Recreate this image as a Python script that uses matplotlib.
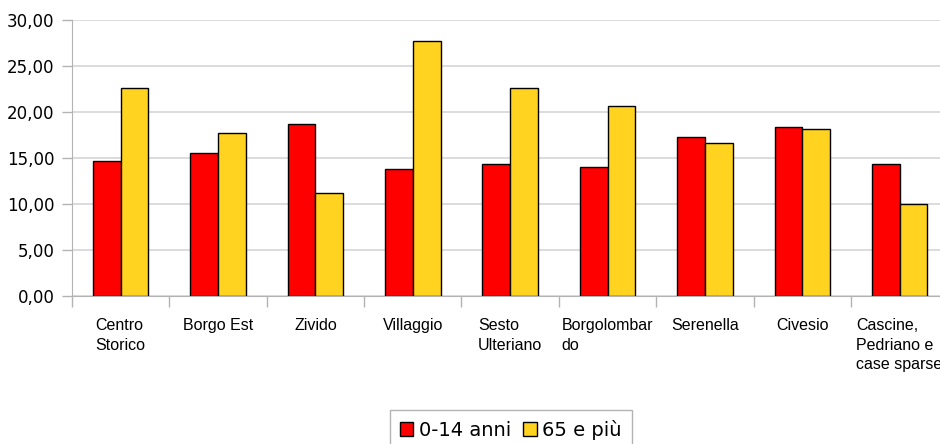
#Bar chart of population share by age class per quartiere (0-14 anni vs 65 e piu)

import numpy as np
import matplotlib
matplotlib.use("Agg")
import matplotlib.pyplot as plt

#
# Data
#

quartieri = ["Centro\nStorico", "Borgo Est", "Zivido", "Villaggio", "Sesto\nUlteriano",
             "Borgolombar\ndo", "Serenella", "Civesio", "Cascine,\nPedriano e\ncase sparse"]
giovani = [14.63, 15.53, 18.63, 13.73, 14.30, 13.94, 17.21, 18.30, 14.27]   # 0-14 anni
anziani = [22.55, 17.71, 11.11, 27.67, 22.55, 20.59, 16.59, 18.08, 9.91]    # 65 e piu
serieNomi = ["0-14 anni", "65 e più"]
yTicks = [0, 5, 10, 15, 20, 25, 30]

#
# Plot
#

fig = plt.figure(figsize=(9.4, 4.44), dpi=100)
ax = fig.add_axes([72/940., 1-295.5/444., (948.3-72)/940., (295.5-20)/444.])

x = np.arange(len(quartieri))
w = 0.285
ax.bar(x - w/2, giovani, w, color="#ff0000", edgecolor="black", linewidth=1.0, label=serieNomi[0], zorder=3)
ax.bar(x + w/2, anziani, w, color="#ffd320", edgecolor="black", linewidth=1.0, label=serieNomi[1], zorder=3)

ax.set_xlim(-0.5, len(quartieri) - 0.5)
ax.set_ylim(0, 30)

#y axis
ax.set_yticks(yTicks)
ax.set_yticklabels(["%d,00" % v for v in yTicks], fontsize=12, family="DejaVu Sans")
ax.tick_params(axis="y", length=7.2, width=1, color="#b3b3b3", pad=5.5)
ax.yaxis.grid(True, color="#d6d6d6", linewidth=1.2, zorder=0)

#x axis: labels at centres, tick marks between groups
ax.set_xticks(x)
ax.set_xticklabels(quartieri, fontsize=11.5, family=["Liberation Sans", "DejaVu Sans"],
                   linespacing=1.4, va="top", ha="center", multialignment="left")
ax.tick_params(axis="x", which="major", length=0, pad=16)
ax.set_xticks(np.arange(-0.5, len(quartieri), 1.0), minor=True)
ax.tick_params(axis="x", which="minor", length=8, width=1, color="#b3b3b3")

for s in ["top", "right"]:
    ax.spines[s].set_visible(False)
ax.spines["left"].set_color("#b3b3b3")
ax.spines["bottom"].set_color("#b3b3b3")
ax.spines["left"].set_zorder(4)
ax.spines["bottom"].set_zorder(4)

leg = fig.legend(loc="upper center", bbox_to_anchor=(510.8/940., 1-410/444.), ncol=2,
                 prop={"family": "DejaVu Sans", "size": 14},
                 handlelength=0.7, handleheight=0.7, handletextpad=0.3, columnspacing=0.6,
                 borderpad=0.5, borderaxespad=0, fancybox=False, framealpha=1)
leg.get_frame().set_edgecolor("#b3b3b3")
leg.get_frame().set_linewidth(1.0)

fig.savefig("out.png", dpi=100)
